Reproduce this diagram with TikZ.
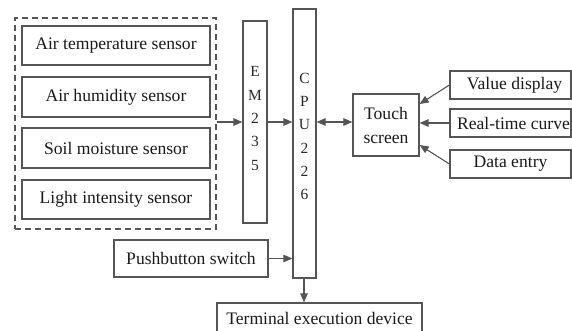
\documentclass[tikz,border=0pt]{standalone}
\usepackage{fontspec}
\setmainfont{Liberation Serif}
\usetikzlibrary{arrows.meta,calc}
\definecolor{linegray}{HTML}{555555}
\definecolor{textdark}{HTML}{1A1A1A}
\definecolor{lettergray}{HTML}{2A2A2A}
\tikzset{
  box/.style={draw=linegray, line width=1.2pt, inner sep=0pt, text=textdark,
    font=\fontsize{17.6}{22}\selectfont, align=center},
  letters/.style={inner sep=0pt, text=lettergray, align=center,
    font=\fontsize{15.5}{23.3}\selectfont},
  conn/.style={draw=linegray, line width=1.1pt, -{Triangle[length=9pt,width=7.5pt]}},
  conn2/.style={draw=linegray, line width=1.1pt, {Triangle[length=9pt,width=7.5pt]}-{Triangle[length=9pt,width=7.5pt]}},
  grpbox/.style={draw=linegray, line width=1.3pt, dash pattern=on 6pt off 4pt, inner sep=0pt}
}
\begin{document}
\begin{tikzpicture}[x=1pt,y=-1pt]
\useasboundingbox (0,0) rectangle (572,331);
\fill[white] (0,0) rectangle (572,331);
% sensor group
\node[grpbox, minimum width=201pt, minimum height=211pt] (grp) at (115.5,123.5) {};
\node[box, minimum width=188pt, minimum height=39pt] (s1) at (116,45.5) {Air temperature sensor};
\node[box, minimum width=188pt, minimum height=40pt] (s2) at (116,97) {Air humidity sensor};
\node[box, minimum width=188pt, minimum height=40pt] (s3) at (116,148) {Soil moisture sensor};
\node[box, minimum width=188pt, minimum height=39pt] (s4) at (116,199.5) {Light intensity sensor};
% EM235
\node[box, minimum width=24pt, minimum height=202pt] (em) at (255,122) {};
\node[letters] (emt) at (255,118.5) {E\\M\\2\\3\\5};
% CPU226
\node[box, minimum width=23pt, minimum height=269pt] (cpu) at (304.5,143.5) {};
\node[letters] (cput) at (304.5,136.5) {C\\P\\U\\2\\2\\6};
% pushbutton
\node[box, minimum width=154pt, minimum height=37pt] (push) at (191,258.5) {Pushbutton switch};
% terminal (box runs past the lower edge, as in the reference)
\node[box, minimum width=205pt, minimum height=30pt] (term) at (319.5,318) {Terminal execution device};
% touch screen
\node[box, minimum width=66pt, minimum height=62pt, font=\fontsize{17.6}{24}\selectfont] (touch) at (386,125) {Touch\\screen};
% right boxes
\node[box, minimum width=121pt, minimum height=28pt] (vd) at (510.5,85) {\hspace*{8pt}Value display};
\node[box, minimum width=121pt, minimum height=28pt] (rt) at (510.5,123) {\hspace*{6pt}Real-time curve};
\node[box, minimum width=121pt, minimum height=28pt] (de) at (510.5,164) {Data entry};
% connectors
\draw[conn] (grp.east |- em.west) -- (em.west);
\draw[conn] (em.east) -- (em.east -| cpu.west);
\draw[conn2] (em.east -| cpu.east) -- (em.east -| touch.west);
\draw[conn] (push.east) -- (push.east -| cpu.west);
\draw[conn] (cpu.south -| term.north) ++(-15.5,0) coordinate (cb) -- (cb |- term.north);
\draw[conn] (vd.west) -- ([yshift=21pt]touch.east);
\draw[conn] (rt.west) -- (rt.west -| touch.east);
\draw[conn] (de.west) -- ([yshift=-20pt]touch.east);
\end{tikzpicture}
\end{document}
